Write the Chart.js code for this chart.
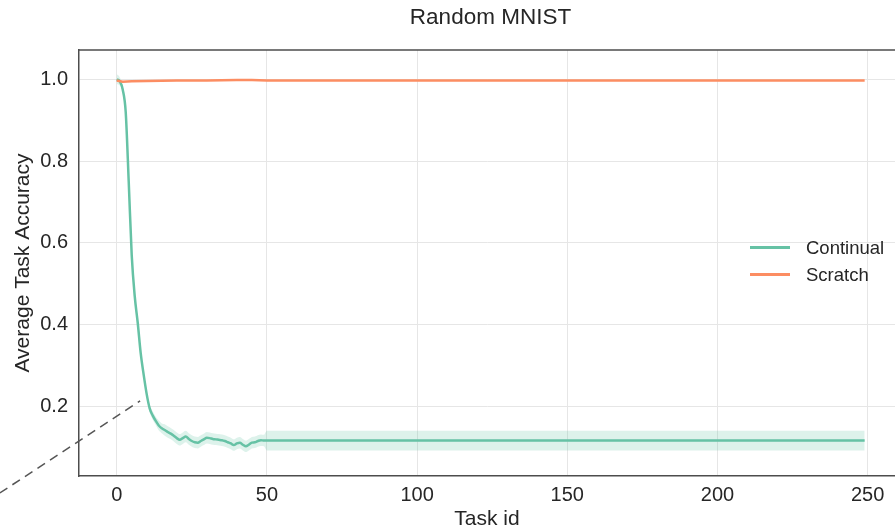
<!DOCTYPE html>
<html>
<head>
<meta charset="utf-8">
<title>Random MNIST</title>
<script src="https://cdn.jsdelivr.net/npm/chart.js@4/dist/chart.umd.min.js"></script>
<style>
    html, body { margin: 0; padding: 0; background: #ffffff; }
    #wrap { position: relative; width: 895px; height: 530px; }
    #legenda { position: absolute; left: 750px; top: 234px; font-family: 'Liberation Sans', Arial, sans-serif; font-size: 18.5px; color: #262626; }
    .legenda-item { position: relative; height: 27px; line-height: 27px; padding-left: 56px; }
    .legenda-item span { position: absolute; left: 0; top: 12px; width: 40px; height: 2.5px; }
</style>
</head>
<body>
<div id="wrap">
    <canvas id="chart-random-mnist" width="895" height="530"></canvas>
    <div id="legenda">
        <div class="legenda-item"><span style="background:#66c2a5"></span>Continual</div>
        <div class="legenda-item"><span style="background:#fc8d62"></span>Scratch</div>
    </div>
</div>
<script>
// =====================================================
// DADOS
// =====================================================

const tituloGrafico = 'Random MNIST';

const continualTasks = [0, 1, 2, 3, 4, 5, 6, 7, 8, 9, 10, 11, 12, 13, 14, 15, 16, 17, 18, 19,
    20, 21, 22, 23, 24, 25, 26, 27, 28, 29, 30, 31, 32, 33, 34, 35, 36, 37, 38, 39,
    40, 41, 42, 43, 44, 45, 46, 47, 48, 49, 50, 249];
const continualAcc = [1.0, 0.995, 0.975, 0.92, 0.75, 0.57, 0.47, 0.405, 0.33, 0.277, 0.23, 0.195, 0.178, 0.165, 0.154, 0.147, 0.143, 0.138, 0.134, 0.129,
    0.123, 0.119, 0.123, 0.127, 0.121, 0.116, 0.113, 0.112, 0.116, 0.12, 0.124, 0.123, 0.121, 0.12, 0.119, 0.118, 0.116, 0.113, 0.11, 0.106,
    0.11, 0.112, 0.107, 0.103, 0.107, 0.112, 0.113, 0.116, 0.118, 0.117, 0.117, 0.117];
const continualStd = [0.012, 0.01, 0.008, 0.008, 0.008, 0.008, 0.008, 0.008, 0.008, 0.008, 0.008, 0.009, 0.01, 0.01, 0.012, 0.012, 0.014, 0.014, 0.014, 0.014,
    0.014, 0.014, 0.014, 0.014, 0.014, 0.014, 0.014, 0.014, 0.014, 0.014, 0.014, 0.014, 0.014, 0.014, 0.014, 0.014, 0.014, 0.014, 0.014, 0.014,
    0.014, 0.014, 0.014, 0.014, 0.014, 0.014, 0.014, 0.014, 0.014, 0.014, 0.024, 0.024];

const scratchTasks = [0, 2, 5, 10, 20, 30, 40, 45, 50, 100, 249];
const scratchAcc = [0.997, 0.994, 0.995, 0.996, 0.997, 0.997, 0.998, 0.998, 0.997, 0.997, 0.997];

// linha tracejada (anotação que sai do gráfico)
const zoomLineX = [-38.9, 7.8];
const zoomLineY = [-0.011, 0.214];

const xTicks = [0, 50, 100, 150, 200, 250];
const yTicks = [0.2, 0.4, 0.6, 0.8, 1.0];

// =====================================================
// CONFIGURAÇÕES
// =====================================================

const FONTE = "'Liberation Sans', Arial, sans-serif";
const COR_TEXTO = '#262626';
const COR_GRADE = '#e6e6e6';
const COR_BORDA = '#4d4d4d';

function pares(xs, ys) {
    return xs.map((x, i) => ({ x: x, y: ys[i] }));
}

// título centrado na área do gráfico + borda superior
const moldura = {
    id: 'moldura',
    afterDraw(chart) {
        const { ctx, chartArea } = chart;
        ctx.save();
        ctx.strokeStyle = COR_BORDA;
        ctx.lineWidth = 1.5;
        ctx.beginPath();
        ctx.moveTo(chartArea.left, chartArea.top);
        ctx.lineTo(chartArea.right, chartArea.top);
        ctx.stroke();

        ctx.fillStyle = COR_TEXTO;
        ctx.font = '22.5px ' + FONTE;
        ctx.textAlign = 'center';
        ctx.textBaseline = 'middle';
        ctx.fillText(tituloGrafico, (chartArea.left + chartArea.right + 7) / 2, 18);
        ctx.restore();
    }
};

function criarGrafico() {
    const ctx = document.getElementById('chart-random-mnist');
    const inferior = continualAcc.map((v, i) => v - continualStd[i]);
    const superior = continualAcc.map((v, i) => v + continualStd[i]);

    new Chart(ctx, {
        type: 'line',
        data: {
            datasets: [
                {
                    label: 'Scratch',
                    data: pares(scratchTasks, scratchAcc),
                    borderColor: '#fc8d62',
                    borderWidth: 2.5,
                    pointRadius: 0,
                    fill: false,
                    order: 0
                },
                {
                    label: 'Continual',
                    data: pares(continualTasks, continualAcc),
                    borderColor: '#66c2a5',
                    borderWidth: 2.5,
                    pointRadius: 0,
                    cubicInterpolationMode: 'monotone',
                    fill: false,
                    order: 1
                },
                {
                    label: 'band-low',
                    data: pares(continualTasks, inferior),
                    borderWidth: 0,
                    pointRadius: 0,
                    cubicInterpolationMode: 'monotone',
                    fill: false,
                    order: 2
                },
                {
                    label: 'band-high',
                    data: pares(continualTasks, superior),
                    borderWidth: 0,
                    pointRadius: 0,
                    cubicInterpolationMode: 'monotone',
                    backgroundColor: 'rgba(102, 194, 165, 0.22)',
                    fill: '-1',
                    order: 2
                },
                {
                    label: 'zoom',
                    data: pares(zoomLineX, zoomLineY),
                    borderColor: '#555555',
                    borderWidth: 1.5,
                    borderDash: [9, 6],
                    pointRadius: 0,
                    fill: false,
                    clip: false,
                    order: 0
                }
            ]
        },
        options: {
            responsive: false,
            animation: false,
            devicePixelRatio: 1,
            layout: { padding: { top: 50, left: 0, right: 0, bottom: 0 } },
            plugins: {
                legend: { display: false },
                tooltip: { enabled: false },
                title: { display: false }
            },
            scales: {
                x: {
                    type: 'linear',
                    min: -12.55,
                    max: 259.1,
                    afterFit: s => { s.height = 54; },
                    afterBuildTicks: s => { s.ticks = xTicks.map(v => ({ value: v })); },
                    grid: { color: COR_GRADE, lineWidth: 1, drawTicks: false },
                    border: { display: true, color: COR_BORDA, width: 1.5 },
                    ticks: {
                        color: COR_TEXTO,
                        font: { family: FONTE, size: 20 },
                        padding: 7,
                        maxRotation: 0,
                        callback: v => String(v)
                    },
                    title: {
                        display: true,
                        text: 'Task id',
                        color: COR_TEXTO,
                        font: { family: FONTE, size: 21, lineHeight: 1.05 },
                        padding: { top: 0, bottom: 0 }
                    }
                },
                y: {
                    type: 'linear',
                    min: 0.0305,
                    max: 1.0715,
                    afterFit: s => { s.width = 79; },
                    afterBuildTicks: s => { s.ticks = yTicks.map(v => ({ value: v })); },
                    grid: { color: COR_GRADE, lineWidth: 1, drawTicks: false },
                    border: { display: true, color: COR_BORDA, width: 1.5 },
                    ticks: {
                        color: COR_TEXTO,
                        font: { family: FONTE, size: 20 },
                        padding: 11,
                        callback: v => v.toFixed(1)
                    },
                    title: {
                        display: true,
                        text: 'Average Task Accuracy',
                        color: COR_TEXTO,
                        font: { family: FONTE, size: 21 },
                        padding: { top: 11, bottom: 0 }
                    }
                }
            }
        },
        plugins: [moldura]
    });
}

criarGrafico();
</script>
</body>
</html>
